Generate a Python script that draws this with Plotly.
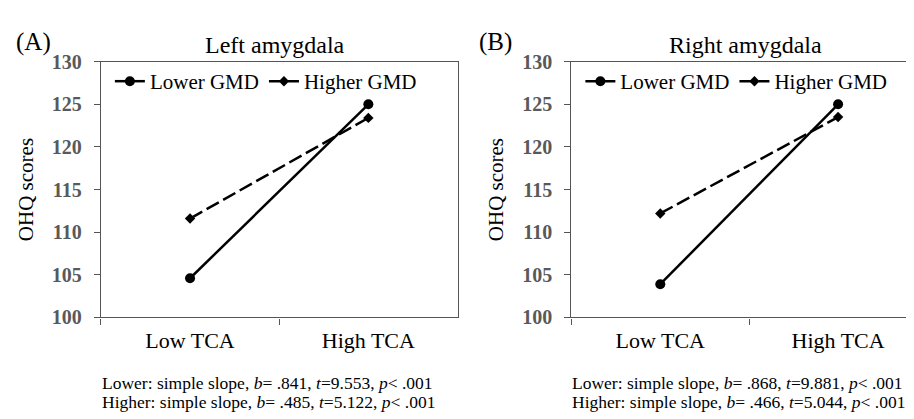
import plotly.graph_objects as go

categories = ["Low TCA", "High TCA"]
left_lower = [104.6, 125.0]
left_higher = [111.6, 123.4]
right_lower = [103.9, 125.0]
right_higher = [112.2, 123.5]
y_ticks = [100, 105, 110, 115, 120, 125, 130]
series_names = ["Lower GMD", "Higher GMD"]
panel_titles = ["Left amygdala", "Right amygdala"]
panel_letters = ["(A)", "(B)"]
left_notes = ["Lower: simple slope, <i>b</i>= .841, <i>t</i>=9.553, <i>p</i>&lt; .001",
              "Higher: simple slope, <i>b</i>= .485, <i>t</i>=5.122, <i>p</i>&lt; .001"]
right_notes = ["Lower: simple slope, <i>b</i>= .868, <i>t</i>=9.881, <i>p</i>&lt; .001",
               "Higher: simple slope, <i>b</i>= .466, <i>t</i>=5.044, <i>p</i>&lt; .001"]

W, H = 914, 419
FONT = "Liberation Serif, Times New Roman, serif"

fig = go.Figure()

def add_panel(lower, higher, xa, ya, legend):
    fig.add_trace(go.Scatter(x=categories, y=lower, name=series_names[0], mode="lines+markers",
                             line=dict(color="black", width=2.5),
                             marker=dict(symbol="circle", size=10, color="black"),
                             xaxis=xa, yaxis=ya, legend=legend))
    fig.add_trace(go.Scatter(x=categories, y=higher, name=series_names[1], mode="lines+markers",
                             line=dict(color="black", width=2.5, dash="14px,5px"),
                             marker=dict(symbol="diamond", size=8, color="black"),
                             xaxis=xa, yaxis=ya, legend=legend))

add_panel(left_lower, left_higher, "x", "y", "legend")
add_panel(right_lower, right_higher, "x2", "y2", "legend2")

ydom = [(H - 315) / H, (H - 45) / H]
axis_line = "#555555"

xcommon = dict(type="category", tickson="boundaries", ticks="outside", ticklen=6,
               tickcolor=axis_line, showline=True, linecolor=axis_line, linewidth=1.3,
               mirror=True, showgrid=False, zeroline=False, ticklabelstandoff=3,
               tickfont=dict(family=FONT, size=22, color="black"))
ycommon = dict(range=[100, 130], tickvals=y_ticks, ticktext=["<b>%d</b>" % v for v in y_ticks],
               ticks="outside", ticklen=6, ticklabelstandoff=8,
               tickcolor=axis_line, showline=True, linecolor=axis_line, linewidth=1.3,
               mirror=True, showgrid=False, zeroline=False,
               tickfont=dict(family=FONT, size=20, color="#595959"),
               title=dict(text="OHQ scores", font=dict(family=FONT, size=21, color="black"), standoff=12))

fig.update_layout(
    width=W, height=H,
    margin=dict(l=0, r=0, t=0, b=0),
    plot_bgcolor="white", paper_bgcolor="white",
    xaxis=dict(domain=[93 / W, 450 / W], range=[-0.5, 1.5], anchor="y", **xcommon),
    yaxis=dict(domain=ydom, anchor="x", **ycommon),
    xaxis2=dict(domain=[564 / W, 1.0], range=[-0.5, 1.5 - (920 - 914) / 178], anchor="y2", **xcommon),
    yaxis2=dict(domain=ydom, anchor="x2", **ycommon),
    legend=dict(orientation="h", x=102 / W, xanchor="left", y=1 - 66 / H, yanchor="middle",
                bgcolor="rgba(0,0,0,0)", font=dict(family=FONT, size=21, color="black"),
                itemwidth=30, tracegroupgap=0),
    legend2=dict(orientation="h", x=573 / W, xanchor="left", y=1 - 66 / H, yanchor="middle",
                 bgcolor="rgba(0,0,0,0)", font=dict(family=FONT, size=21, color="black"),
                 itemwidth=30, tracegroupgap=0),
    showlegend=True,
)

ann = []
for cx, title in zip([267, 738], panel_titles):
    ann.append(dict(text=title, x=cx / W, y=1 - 27 / H, xref="paper", yref="paper",
                    xanchor="center", yanchor="middle", showarrow=False,
                    font=dict(family=FONT, size=24, color="black")))
for lx, letter in zip([6, 470], panel_letters):
    ann.append(dict(text=letter, x=lx / W, y=1 - 24 / H, xref="paper", yref="paper",
                    xanchor="left", yanchor="middle", showarrow=False,
                    font=dict(family=FONT, size=25, color="black")))
for lx, notes in zip([92, 563], [left_notes, right_notes]):
    for yy, note in zip([384, 404], notes):
        ann.append(dict(text=note, x=lx / W, y=1 - yy / H, xref="paper", yref="paper",
                        xanchor="left", yanchor="middle", showarrow=False,
                        font=dict(family=FONT, size=17.5, color="black")))
fig.update_layout(annotations=ann)

fig.write_html("out.html")
